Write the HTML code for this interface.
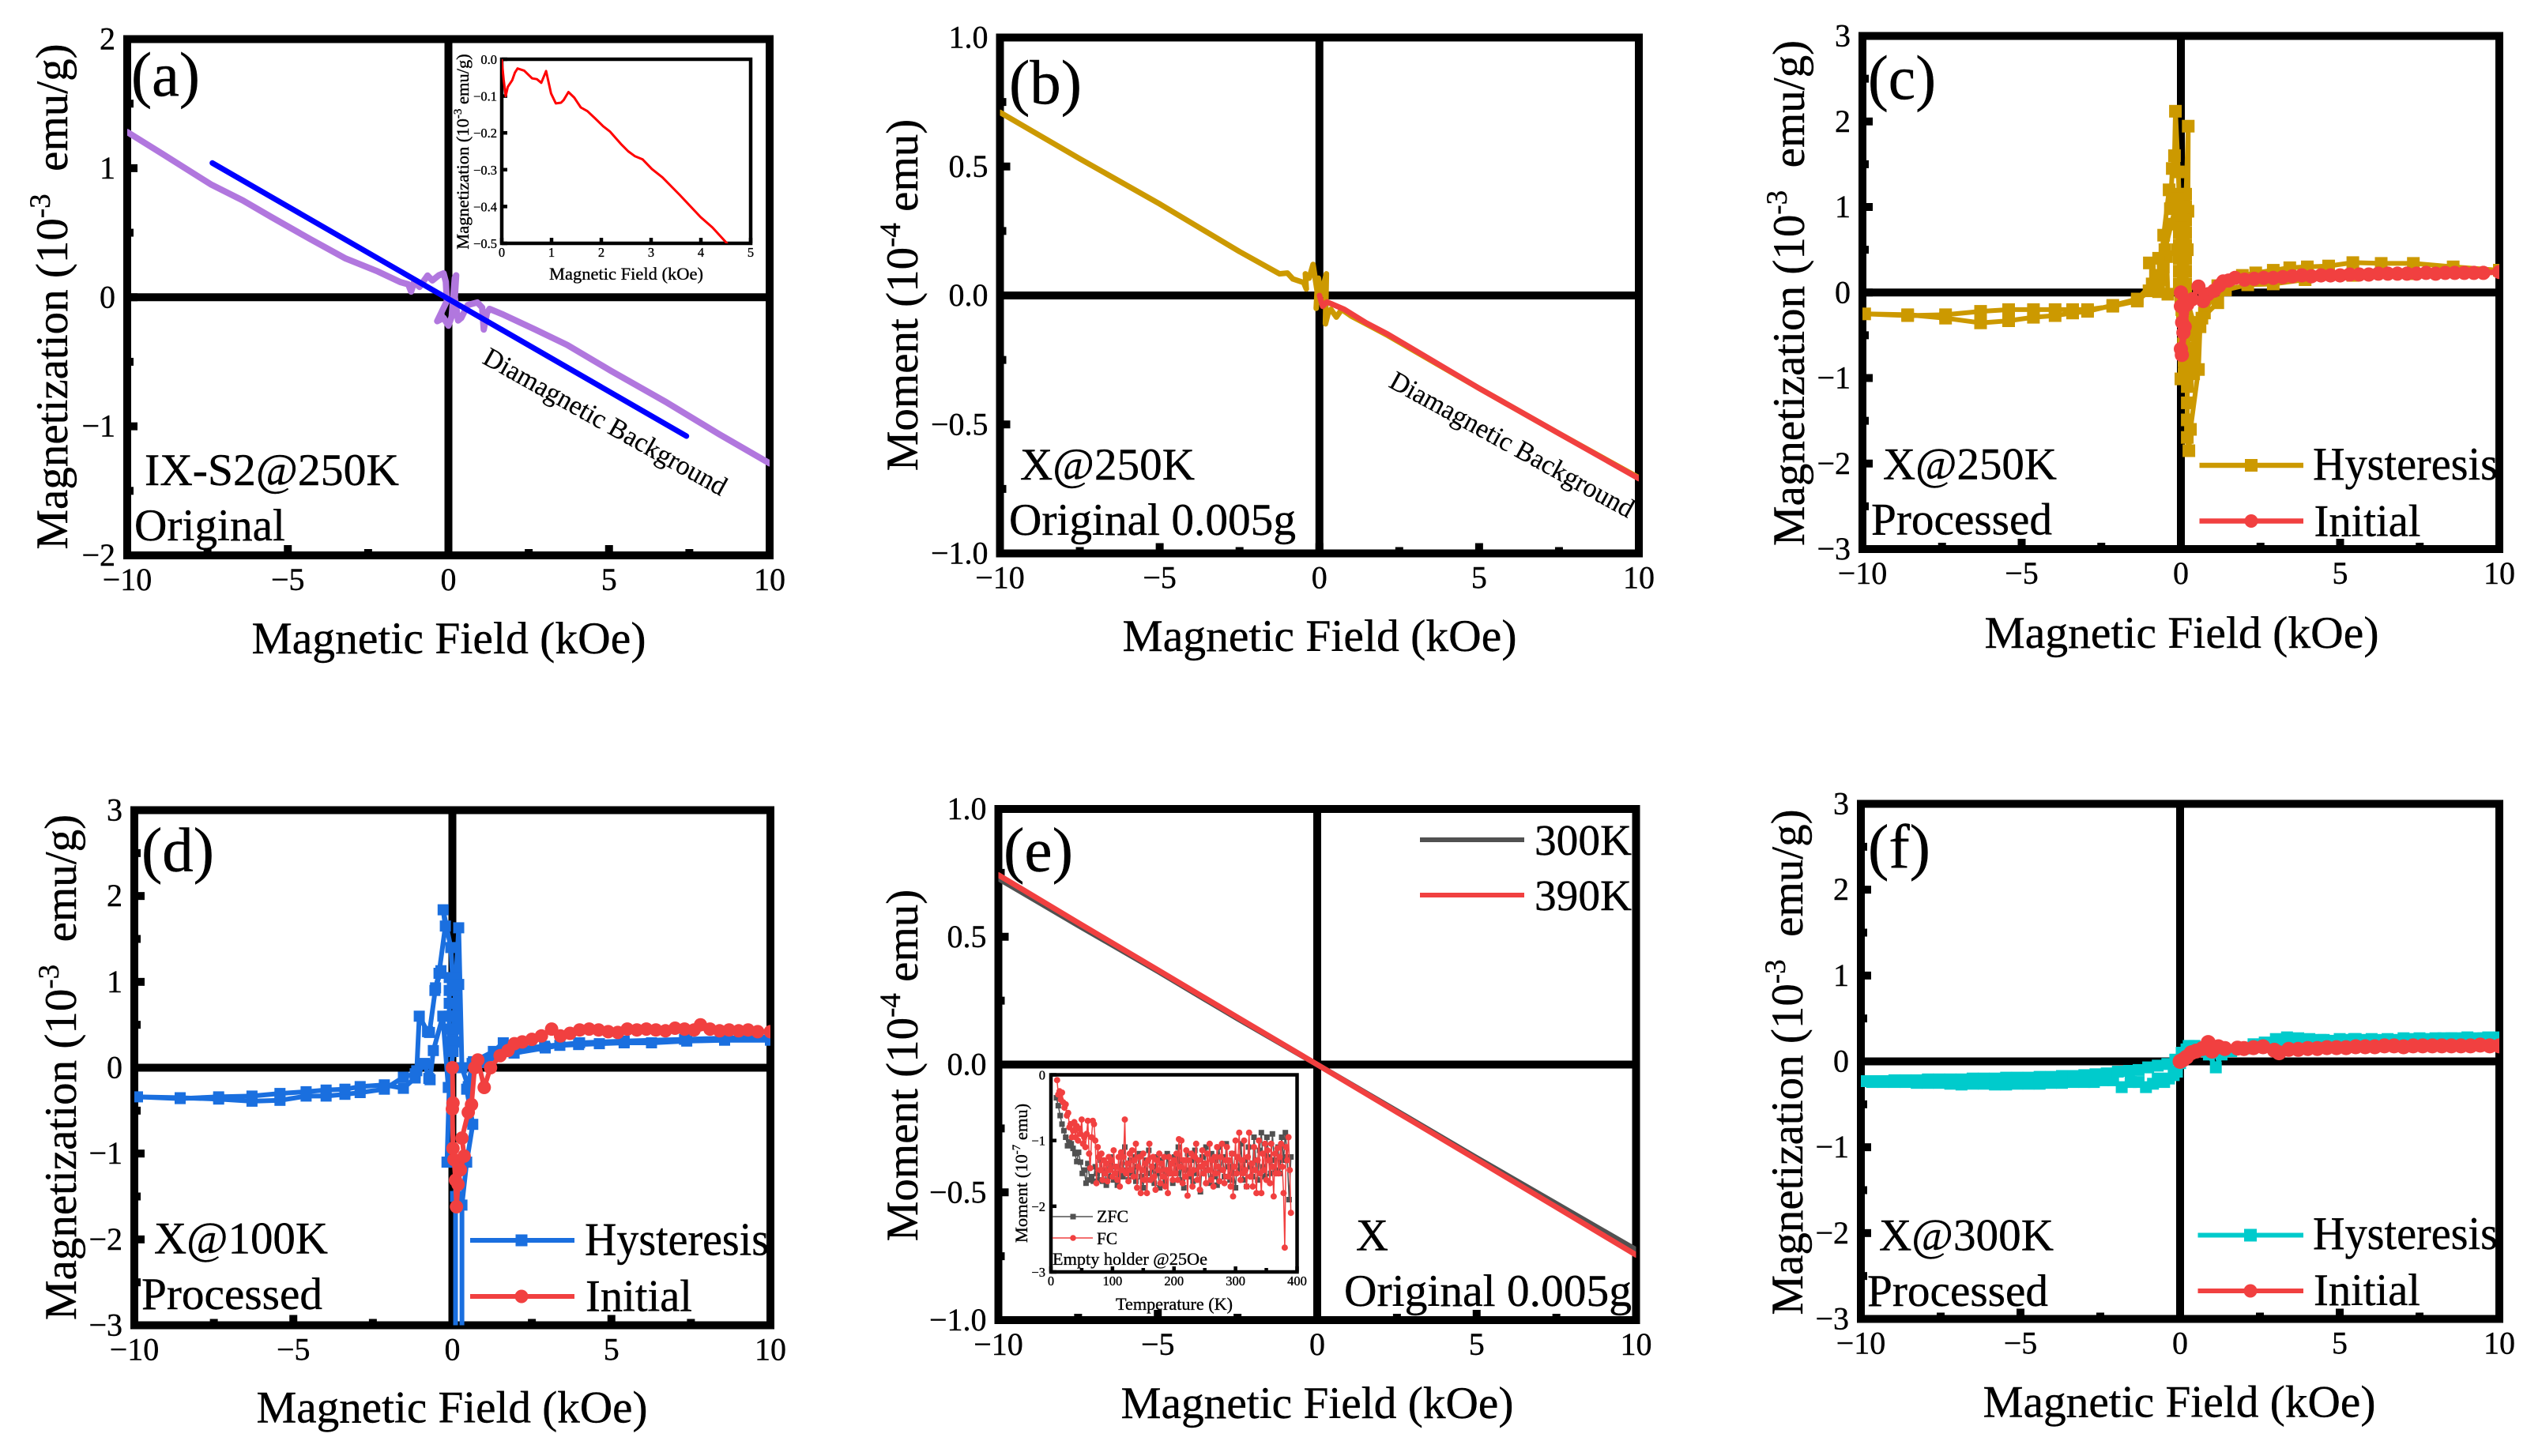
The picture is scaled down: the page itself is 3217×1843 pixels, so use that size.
<!DOCTYPE html>
<html lang="en">
<head>
<meta charset="utf-8">
<title>Magnetization panels</title>
<style>
html,body{margin:0;padding:0;background:#fff;}
svg{display:block;}
text{font-family:"Liberation Serif","Times New Roman",serif;fill:#000;stroke:#000;stroke-width:.4px;}
.title{font-size:57.6px;}
.ytitle{font-size:57px;}
.note{font-size:57px;}
.tag{font-size:79px;}
.small{font-size:22.5px;stroke:#000;stroke-width:.35px;}
.diag{font-size:34.6px;stroke-width:.2px;}
</style>
</head>
<body>
<svg id="figure" xmlns="http://www.w3.org/2000/svg" width="3217" height="1843" viewBox="0 0 3217 1843">
<rect x="0" y="0" width="3217" height="1843" fill="#fff"/>
<defs id="clips"></defs>

<g id="panel-a">
  <g id="a-axes"></g>
  <g id="a-marks"></g>
  <g id="ai-axes"></g>
  <g id="ai-marks"></g>
  <text class="title" x="568" y="827" text-anchor="middle" textLength="499" lengthAdjust="spacingAndGlyphs">Magnetic Field (kOe)</text>
  <text class="ytitle" transform="translate(85,375.5) rotate(-90)" text-anchor="middle">Magnetization (10<tspan dy="-22" font-size="37">-3</tspan><tspan dy="22">&#160; emu/g)</tspan></text>
  <text class="tag" x="166" y="121" textLength="87" lengthAdjust="spacingAndGlyphs">(a)</text>
  <text class="note" x="183" y="614" textLength="322" lengthAdjust="spacingAndGlyphs">IX-S2@250K</text>
  <text class="note" x="170" y="684" textLength="191" lengthAdjust="spacingAndGlyphs">Original</text>
  <text class="diag" transform="translate(609,459) rotate(29.2)" textLength="347" lengthAdjust="spacingAndGlyphs">Diamagnetic Background</text>
  <text class="small" x="792.5" y="354" text-anchor="middle" textLength="195" lengthAdjust="spacingAndGlyphs">Magnetic Field (kOe)</text>
  <text class="small" transform="translate(593,192) rotate(-90)" text-anchor="middle">Magnetization (10<tspan dy="-9" font-size="15">-3</tspan><tspan dy="9"> emu/g)</tspan></text>
</g>

<g id="panel-b">
  <g id="b-axes"></g>
  <g id="b-marks"></g>
  <text class="title" x="1670" y="824" text-anchor="middle" textLength="499" lengthAdjust="spacingAndGlyphs">Magnetic Field (kOe)</text>
  <text class="ytitle" transform="translate(1161,373.5) rotate(-90)" text-anchor="middle">Moment (10<tspan dy="-22" font-size="37">-4</tspan><tspan dy="22"> emu)</tspan></text>
  <text class="tag" x="1277" y="131" textLength="92" lengthAdjust="spacingAndGlyphs">(b)</text>
  <text class="note" x="1291" y="607" textLength="221" lengthAdjust="spacingAndGlyphs">X@250K</text>
  <text class="note" x="1277" y="677" textLength="363" lengthAdjust="spacingAndGlyphs">Original 0.005g</text>
  <text class="diag" transform="translate(1756,489) rotate(28.8)" textLength="347" lengthAdjust="spacingAndGlyphs">Diamagnetic Background</text>
</g>

<g id="panel-c">
  <g id="c-axes"></g>
  <g id="c-marks"></g>
  <text class="title" x="2761" y="820" text-anchor="middle" textLength="499" lengthAdjust="spacingAndGlyphs">Magnetic Field (kOe)</text>
  <text class="ytitle" transform="translate(2283,371) rotate(-90)" text-anchor="middle">Magnetization (10<tspan dy="-22" font-size="37">-3</tspan><tspan dy="22">&#160; emu/g)</tspan></text>
  <text class="tag" x="2364" y="125" textLength="86" lengthAdjust="spacingAndGlyphs">(c)</text>
  <text class="note" x="2383" y="606.5" textLength="220" lengthAdjust="spacingAndGlyphs">X@250K</text>
  <text class="note" x="2368" y="676.5" textLength="229" lengthAdjust="spacingAndGlyphs">Processed</text>
  <g>
    <line x1="2783.5" y1="589" x2="2915" y2="589" stroke="#CC9900" stroke-width="6.5"/>
    <rect x="2841" y="581" width="16" height="16" fill="#CC9900"/>
    <text x="2927" y="607" font-size="59" textLength="234" lengthAdjust="spacingAndGlyphs">Hysteresis</text>
    <line x1="2783.5" y1="659.5" x2="2915" y2="659.5" stroke="#F14040" stroke-width="6.5"/>
    <circle cx="2849" cy="659.5" r="8.5" fill="#F14040"/>
    <text x="2928.5" y="678.5" font-size="57" textLength="135" lengthAdjust="spacingAndGlyphs">Initial</text>
  </g>
</g>

<g id="panel-d">
  <g id="d-axes"></g>
  <g id="d-marks"></g>
  <text class="title" x="572" y="1800.5" text-anchor="middle" textLength="495" lengthAdjust="spacingAndGlyphs">Magnetic Field (kOe)</text>
  <text class="ytitle" transform="translate(96,1351) rotate(-90)" text-anchor="middle">Magnetization (10<tspan dy="-22" font-size="37">-3</tspan><tspan dy="22">&#160; emu/g)</tspan></text>
  <text class="tag" x="179" y="1102.5" textLength="92" lengthAdjust="spacingAndGlyphs">(d)</text>
  <text class="note" x="195" y="1586.5" textLength="220" lengthAdjust="spacingAndGlyphs">X@100K</text>
  <text class="note" x="179" y="1657" textLength="229" lengthAdjust="spacingAndGlyphs">Processed</text>
  <g>
    <line x1="595" y1="1570" x2="727" y2="1570" stroke="#1A6FDF" stroke-width="6"/>
    <rect x="652.5" y="1562.5" width="15" height="15" fill="#1A6FDF"/>
    <text x="740" y="1588.5" font-size="59" textLength="233" lengthAdjust="spacingAndGlyphs">Hysteresis</text>
    <line x1="595" y1="1641" x2="727" y2="1641" stroke="#F14040" stroke-width="6"/>
    <circle cx="660" cy="1641" r="8.5" fill="#F14040"/>
    <text x="741" y="1659.5" font-size="57" textLength="135" lengthAdjust="spacingAndGlyphs">Initial</text>
  </g>
</g>

<g id="panel-e">
  <g id="e-axes"></g>
  <g id="e-marks"></g>
  <g id="ei-axes"></g>
  <g id="ei-marks"></g>
  <text class="title" x="1667" y="1795" text-anchor="middle" textLength="497" lengthAdjust="spacingAndGlyphs">Magnetic Field (kOe)</text>
  <text class="ytitle" transform="translate(1161,1348.5) rotate(-90)" text-anchor="middle">Moment (10<tspan dy="-22" font-size="37">-4</tspan><tspan dy="22"> emu)</tspan></text>
  <text class="tag" x="1270" y="1102.5" textLength="88" lengthAdjust="spacingAndGlyphs">(e)</text>
  <text class="note" x="1716" y="1582.5" textLength="41" lengthAdjust="spacingAndGlyphs">X</text>
  <text class="note" x="1701" y="1653" textLength="364" lengthAdjust="spacingAndGlyphs">Original 0.005g</text>
  <g>
    <line x1="1797" y1="1063" x2="1929" y2="1063" stroke="#515151" stroke-width="6"/>
    <text x="1942" y="1082" font-size="55" textLength="123" lengthAdjust="spacingAndGlyphs">300K</text>
    <line x1="1797" y1="1133" x2="1929" y2="1133" stroke="#F14040" stroke-width="6"/>
    <text x="1942" y="1152" font-size="55" textLength="123" lengthAdjust="spacingAndGlyphs">390K</text>
  </g>
  <g>
    <line x1="1332" y1="1540" x2="1383" y2="1540" stroke="#515151" stroke-width="1.5"/>
    <rect x="1354.5" y="1536.5" width="7" height="7" fill="#515151"/>
    <text class="small" x="1388" y="1547" font-size="22" textLength="40" lengthAdjust="spacingAndGlyphs">ZFC</text>
    <line x1="1332" y1="1567" x2="1383" y2="1567" stroke="#F14040" stroke-width="1.5"/>
    <circle cx="1358" cy="1567" r="3.8" fill="#F14040"/>
    <text class="small" x="1388" y="1575" font-size="22" textLength="26" lengthAdjust="spacingAndGlyphs">FC</text>
    <text class="small" x="1332" y="1601" font-size="22" textLength="196" lengthAdjust="spacingAndGlyphs">Empty holder @25Oe</text>
  </g>
  <text class="small" x="1486" y="1658" text-anchor="middle" textLength="148" lengthAdjust="spacingAndGlyphs">Temperature (K)</text>
  <text class="small" transform="translate(1300,1485) rotate(-90)" text-anchor="middle">Moment (10<tspan dy="-9" font-size="15">-7</tspan><tspan dy="9"> emu)</tspan></text>
</g>

<g id="panel-f">
  <g id="f-axes"></g>
  <g id="f-marks"></g>
  <text class="title" x="2758" y="1793.5" text-anchor="middle" textLength="497" lengthAdjust="spacingAndGlyphs">Magnetic Field (kOe)</text>
  <text class="ytitle" transform="translate(2281,1344.5) rotate(-90)" text-anchor="middle">Magnetization (10<tspan dy="-22" font-size="37">-3</tspan><tspan dy="22">&#160; emu/g)</tspan></text>
  <text class="tag" x="2364" y="1098.5" textLength="79" lengthAdjust="spacingAndGlyphs">(f)</text>
  <text class="note" x="2378" y="1582.5" textLength="221" lengthAdjust="spacingAndGlyphs">X@300K</text>
  <text class="note" x="2363" y="1653" textLength="229" lengthAdjust="spacingAndGlyphs">Processed</text>
  <g>
    <line x1="2781.5" y1="1563.5" x2="2915" y2="1563.5" stroke="#00CBCC" stroke-width="6"/>
    <rect x="2840" y="1555.5" width="16" height="16" fill="#00CBCC"/>
    <text x="2927" y="1581" font-size="59" textLength="234" lengthAdjust="spacingAndGlyphs">Hysteresis</text>
    <line x1="2781.5" y1="1634" x2="2915" y2="1634" stroke="#F14040" stroke-width="6"/>
    <circle cx="2848" cy="1634" r="8.5" fill="#F14040"/>
    <text x="2928" y="1652" font-size="57" textLength="135" lengthAdjust="spacingAndGlyphs">Initial</text>
  </g>
</g>
</svg>

<script>
/* ---- tick values and labels ---- */
const fieldTicks = [-10, -5, 0, 5, 10];
const fieldTickLabels = ['\u221210', '\u22125', '0', '5', '10'];
const fieldMinorTicks = [-7.5, -2.5, 2.5, 7.5];
const yTicksA = [-2, -1, 0, 1, 2];
const yTickLabelsA = ['\u22122', '\u22121', '0', '1', '2'];
const yMinorA = [-1.5, -0.5, 0.5, 1.5];
const yTicksMoment = [-1, -0.5, 0, 0.5, 1];
const yTickLabelsMoment = ['\u22121.0', '\u22120.5', '0.0', '0.5', '1.0'];
const yMinorMoment = [-0.75, -0.25, 0.25, 0.75];
const yTicksProcessed = [-3, -2, -1, 0, 1, 2, 3];
const yTickLabelsProcessed = ['\u22123', '\u22122', '\u22121', '0', '1', '2', '3'];
const yMinorProcessed = [-2.5, -1.5, -0.5, 0.5, 1.5, 2.5];
const insetAXTicks = [0, 1, 2, 3, 4, 5];
const insetAXTickLabels = ['0', '1', '2', '3', '4', '5'];
const insetAYTicks = [-0.5, -0.4, -0.3, -0.2, -0.1, 0];
const insetAYTickLabels = ['\u22120.5', '\u22120.4', '\u22120.3', '\u22120.2', '\u22120.1', '0.0'];
const insetEXTicks = [0, 100, 200, 300, 400];
const insetEXTickLabels = ['0', '100', '200', '300', '400'];
const insetEXMinor = [50, 150, 250, 350];
const insetEYTicks = [-3, -2, -1, 0];
const insetEYTickLabels = ['\u22123', '\u22122', '\u22121', '0'];

/* ---- panel (a) ---- */
const aLoopField = [-10,-8.9,-7.4,-6.4,-5.5,-4.3,-3.2,-2.2,-1.5,-1.25,-1.16,-1.07,-.9,-.65,-.5,-.3,-.15,-.08,-.05,-.35,-.15,0,.1,.2,.24,.2,.3,.4,.6,.9,1.05,1.1,1.2,1.28,1.7,2.7,3.7,5.06,6.74,8.42,10];
const aLoopMag = [1.28,1.11,.875,.75,.62,.45,.3,.2,.118,.1,.044,.118,.08,.168,.13,.17,.185,.12,-.03,-.185,-.16,-.22,-.15,.15,.17,0,-.18,-.16,-.06,-.04,-.08,-.25,-.12,-.09,-.134,-.25,-.37,-.57,-.807,-1.06,-1.287];
const aBackgroundField = [-7.35, 7.41];
const aBackgroundMag = [1.04, -1.076];
const aInsetField = [0,.037,.079,.12,.21,.265,.317,.45,.61,.705,.794,.89,.99,1.085,1.19,1.243,1.339,1.455,1.587,1.72,1.878,2.037,2.17,2.407,2.54,2.672,2.83,3.016,3.228,3.571,3.995,4.233,4.524];
const aInsetMag = [-.002,-.054,-.1,-.075,-.057,-.036,-.025,-.031,-.052,-.054,-.064,-.032,-.093,-.12,-.118,-.111,-.089,-.104,-.131,-.141,-.161,-.182,-.196,-.232,-.25,-.263,-.272,-.298,-.321,-.368,-.429,-.457,-.5];

/* ---- panel (b) ---- */
const bHystField = [-10,-7.5,-5,-2.5,-1.25,-1,-.83,-.49,-.41,-.44,-.32,-.2,-.07,-.1,-.03,.05,.22,.19,.27,.36,.53,.7,1,1.46,2.14,5,7.5,10];
const bHystMoment = [.71,.53,.355,.17,.084,.087,.064,.05,.025,.084,.067,.12,.017,-.05,.067,0,.084,-.11,-.07,-.054,-.084,-.054,-.08,-.11,-.155,-.36,-.535,-.707];
const bInitField = [0,.1,.24,.78,1.46,2.14,5,7.5,10];
const bInitMoment = [0,-.042,-.025,-.054,-.106,-.15,-.36,-.535,-.71];

/* ---- panel (c) ---- */
const cHystField = [10,8.55,7.3,6.29,5.4,4.64,3.97,3.42,2.9,2.35,
1.93,1.5,1.16,.74,.6,.55,.3,.25,.2,.2,
.2,.2,0,.05,0,.15,.23,.22,.2,.15,
0,-.05,-.05,-.05,-.05,-.05,-.05,-.05,-.05,.15,
.15,.15,.15,.15,.15,.15,.15,.15,.15,.1,
.1,.1,.1,.1,.4,.4,.4,.4,.4,.2,
-.1,-.05,-.08,-.17,-.2,-.27,-.33,-.37,-.54,-.7,
-.41,-.45,-.99,-.8,-.65,-.7,-.55,-.9,-1.37,-2.14,
-2.93,-3.4,-3.95,-4.63,-5.41,-6.29,-7.39,-8.58,-9.93,-8.58,
-7.39,-6.29,-5.41,-4.63,-3.95,-3.4,-2.93,-2.14,-1.37,-1,
-.7,-.5,-.3,-.1,0,.1,.08,.03,.08,.2,
.4,.66,1.16,1.4,2.1,2.9,3.9,5.4,7.3,10];
const cHystMag = [.26,.3,.34,.34,.35,.31,.3,.29,.26,.23,
.2,.13,.08,-.24,-.4,-.9,-1.6,-1.85,-1.695,-1.49,
-1.29,-1.1,-1.01,-.3,0,1,1.945,.95,.5,0,
-.13,.1,.25,.4,.55,.7,.85,1,1.15,1.15,
1,.85,.7,.55,.4,.25,.1,-.05,-.2,-.35,
-.5,-.65,-.8,-.95,-.95,-.8,-.65,-.5,-.35,-.1,
.5,1,1.41,2.12,1.6,1.45,.98,1.2,.67,.01,
-.02,.42,.346,.2,.15,.4,.3,.1,-.076,-.15,
-.22,-.24,-.27,-.29,-.33,-.355,-.3,-.26,-.25,-.27,
-.26,-.22,-.2,-.2,-.2,-.2,-.2,-.16,-.1,.02,
.2,.5,.8,1.1,.9,.5,0,-.2,-.6,-1,
-.75,-.3,-.12,.03,.09,.1,.15,.2,.22,.26];
const cInitField = [0,0,.04,.08,0,.03,.12,.2,.35,.55,
.7,.85,1.04,1.2,1.33,1.5,1.7,2,2.3,2.6,
2.9,3.2,3.5,3.8,4.1,4.4,4.7,5,5.3,5.6,
5.9,6.2,6.5,6.8,7.1,7.4,7.7,8,8.3,8.6,
8.9,9.2,9.5,10];
const cInitMag = [0,-.16,-.35,-.47,-.66,-.73,-.4,-.14,-.08,.07,
-.1,-.02,.02,.08,.13,.14,.17,.15,.16,.17,
.17,.18,.19,.2,.19,.2,.2,.2,.21,.21,
.21,.22,.22,.22,.22,.22,.23,.22,.23,.23,
.23,.23,.23,.24];

/* ---- panel (d) ---- */
const dHystField = [10,8.56,7.37,6.26,5.4,4.62,3.97,3.38,2.92,1.94,
1.6,1.29,.66,.45,.64,.45,.3,.3,.3,.1,
.1,.1,-.17,-.1,.02,-.1,-.1,-.1,-.1,-.1,
-.1,.1,.1,.1,.1,.1,.1,.2,.02,-.05,
-.29,-.22,-.42,-.55,-.36,-.53,-.72,-.78,-1.04,-1.12,
-1.17,-1.54,-2.14,-2.9,-3.38,-3.97,-4.6,-5.42,-6.3,-7.35,
-8.56,-9.9,-8.56,-7.35,-6.3,-5.42,-4.6,-3.97,-3.38,-2.9,
-2.14,-1.54,-1.17,-.88,-.74,-.7,-.6,-.3,-.13,.02,
.1,.2,.3,.5,.62,1,1.3,1.6,2,2.9,
4,5.4,7.3,10];
const dHystMag = [.32,.32,.31,.29,.29,.28,.27,.26,.23,.17,
.29,.19,.07,-.25,-.66,-1.1,-1.6,-3.3,-3.3,-3.3,
-1.5,-1.1,-1.1,-.23,.19,.3,.45,.6,.75,.9,
1.05,1.05,.9,.75,.6,.45,.3,.97,.97,1.4,
1.84,1.65,1.1,.9,1.13,.93,.41,.42,.6,-.035,
-.07,-.11,-.25,-.29,-.31,-.33,-.33,-.38,-.39,-.365,
-.35,-.34,-.36,-.34,-.33,-.3,-.28,-.26,-.25,-.22,
-.2,-.24,-.12,.05,-.125,-.14,.2,.6,-.23,.19,
.97,1.63,0,-.22,.05,.06,.14,.2,.22,.25,
.29,.31,.33,.36];
const dInitField = [0,.02,0,.02,.05,.1,.13,.18,.25,.37,
.3,.5,.6,.7,.8,1,1.2,1.5,1.75,1.95,
2.2,2.5,2.8,3.12,3.4,3.7,4,4.3,4.6,4.9,
5.2,5.5,5.8,6.1,6.4,6.7,7,7.3,7.6,7.8,
8.1,8.4,8.7,9,9.3,9.6,10];
const dInitMag = [0,-.41,-.48,-.94,-1.07,-1.31,-1.62,-1.36,-1.19,-1.03,
-.82,-.52,-.43,0,.09,-.23,0,.14,.2,.28,
.3,.33,.37,.45,.37,.4,.44,.45,.44,.42,
.41,.45,.44,.45,.44,.43,.46,.45,.44,.5,
.45,.43,.44,.43,.44,.42,.42];

/* ---- panel (e) ---- */
const eField = [-10,-7.5,-5,-2.5,0,2.5,5,7.5,10];
const eMoment300K = [.728,.545,.365,.18,0,-.182,-.365,-.545,-.725];
const eMoment390K = [.742,.555,.37,.185,0,-.186,-.372,-.558,-.745];
const eZfcTemperature = [9,12,15,18,21,24,27,30,33,36,39,42,45,48,51,54,57,60,63,66,69,72,75,78,81,84,87,90,93,96,99,102,105,108,111,114,117,120,123,126,129,132,135,138,141,144,147,150,153,156,159,162,165,168,171,174,177,180,183,186,189,192,195,198,201,204,207,210,213,216,219,222,225,228,231,234,237,240,243,246,249,252,255,258,261,264,267,270,273,276,279,282,285,288,291,294,297,300,303,306,309,312,315,318,321,324,327,330,333,336,339,342,345,348,351,354,357,360,363,366,369,372,375,378,381,384,387,390];
const eZfcMoment = [-.35,-.47,-.62,-.75,-.85,-.95,-1.08,-1.02,
-1.05,-1.12,-1.2,-1.32,-1.18,-1.33,-1.5,-1.45,-1.65,-1.35,
-1.6,-1.55,-1.62,-1.4,-1.5,-1.6,-1.3,-1.62,-1.45,-1.68,
-1.35,-1.55,-1.25,-1.6,-1.4,-1.68,-1.5,-1.2,-1.55,-1.1,
-1.45,-1.6,-1.3,-1.5,-1.25,-1.62,-1.4,-1.2,-1.55,-1.72,
-1.3,-1.5,-1.15,-1.6,-1.4,-1.65,-1.25,-1.5,-1.72,-1.3,
-1.45,-1.62,-1.2,-1.5,-1.35,-1.65,-1.25,-1.5,-1.1,-1.6,
-1.3,-1.72,-1.45,-1.2,-1.55,-1.3,-1.62,-1.15,-1.5,-1.4,
-1.78,-1.25,-1.5,-1.1,-1.45,-1.65,-1.2,-1.55,-1.3,-1.68,
-1.1,-1.45,-1.25,-1.55,-1.05,-1.4,-1.6,-1.2,-1.5,-1.72,
-1.25,-1.45,-1.05,-1.6,-1.3,-1.7,-1.1,-1.4,-1.55,-.95,
-1.3,-1.6,-1.15,-.88,-1.4,-1.55,-.95,-1.25,-1.5,-.9,
-1.3,-1.45,-1.1,-1.5,-.95,-1.3,-.88,-1.25,-1.9,-1.25];
const eFcTemperature = [10,12,14,16,18,20,22,24,26,28,30,32,34,36,38,40,42,44,46,48,50,52,54,56,58,60,62,64,66,68,
70,72,74,76,78,80,82,84,86,88,90,92,94,96,98,100,102,104,106,108,110,112,114,116,118,120,122,124,126,128,
130,132,134,136,138,140,142,144,146,148,150,152,154,156,158,160,162,164,166,168,170,172,174,176,178,180,182,184,186,188,
190,192,194,196,198,200,202,204,206,208,210,212,214,216,218,220,222,224,226,228,230,232,234,236,238,240,242,244,246,248,
250,252,254,256,258,260,262,264,266,268,270,272,274,276,278,280,282,284,286,288,290,292,294,296,298,300,302,304,306,308,
310,312,314,316,318,320,322,324,326,328,330,332,334,336,338,340,342,344,346,348,350,352,354,356,358,360,362,364,366,368,
370,372,374,376,378,380,382,384,386,388,390];
const eFcMoment = [-.08,-.3,-.25,-.38,-.27,-.42,-.5,-.45,-.62,-.58,
-.8,-.75,-.95,-.85,-.72,-.95,-.78,-1,-.82,-.9,
-.68,-1.05,-.95,-1.1,-.9,-.7,-1.2,-1.42,-.95,-.7,
-.75,-1,-1.65,-1.1,-1.25,-1.45,-1.2,-1.6,-1.3,-1.5,
-1.35,-1.62,-1.25,-1.45,-1.3,-1.55,-1.15,-1.5,-1.4,-1.6,
-1.25,-1.7,-1.18,-1.45,-1.25,-.68,-1.5,-1.35,-1.62,-1.2,
-1.45,-1.15,-1.55,-1.3,-1.05,-1.72,-1.4,-1.25,-1.8,-1.45,
-1.2,-1.6,-1.35,-1.8,-1.3,-1.05,-1.6,-1.4,-1.25,-1.55,
-1.75,-1.3,-1.45,-1.2,-1.65,-1.35,-1.55,-1.25,-1.7,-1.45,
-1.8,-1.25,-1.5,-1.35,-1.6,-1.3,-1.5,-1.2,-1.6,-.98,
-1.4,-1,-1.65,-1.3,-1.55,-1.15,-1.84,-1.3,-1.5,-1.2,
-1.7,-1.45,-1.25,-1.05,-1.6,-1.3,-1.75,-1.4,-1.15,-1.5,
-1.35,-1.65,-1.2,-1.45,-1.05,-1.6,-1.3,-1.7,-1.25,-1.5,
-1.1,-1.4,-1.62,-1.25,-1.05,-1.45,-1.65,-1.3,-1.1,-1.55,
-1.3,-1.7,-1.2,-1.85,-1.4,-1,-1.5,-1.25,-.88,-1.6,
-1.3,-1.5,-1,-1.45,-1.7,-1.25,-.88,-1.55,-1.35,-1.7,
-1.1,-1.45,-1.8,-1.3,-1,-1.5,-1.8,-1.2,-1.45,-1.05,
-1.6,-1.15,-1.3,-1.65,-1.05,-1.4,-1.85,-1.2,-1.5,-1.12,
-1.5,-1.25,-1.05,-1.4,-1.8,-2.63,-1.1,-1.3,-.95,-1.45,-2.1];

/* ---- panel (f) ---- */
const fHystField = [10,9.65,9.3,8.95,8.6,8.25,7.9,7.55,7.2,6.85,
6.5,6.15,5.8,5.45,5.1,4.75,4.4,4.05,3.7,3.35,
3,2.65,2.3,1.95,1.6,1.3,1.12,.9,.6,.27,
.1,0,
-.1,-.2,-.35,-.5,-.7,-.85,-1.07,-1.3,-1.55,-1.83,
-2.1,-2.4,-2.7,-3,-3.35,-3.7,-4.05,-4.4,-4.75,-5.1,
-5.45,-5.8,-6.15,-6.5,-6.85,-7.2,-7.55,-7.9,-8.25,-8.6,
-8.95,-9.3,-9.65,-10,
-9.65,-9.3,-8.95,-8.6,-8.25,-7.9,-7.55,-7.2,-6.85,-6.5,
-6.15,-5.8,-5.45,-5.1,-4.75,-4.4,-4.05,-3.7,-3.35,-3,
-2.65,-2.3,-1.95,-1.6,-1.3,-1,-.7,-.4,-.15,.05,
.2,.45,.8,1.2,1.6,2,2.4,2.8,3.2,3.6,
4,4.5,5,5.5,6,6.5,7,7.5,8,8.5,
9,9.5,10];
const fHystMag = [.27,.28,.27,.27,.27,.27,.26,.26,.26,.25,
.25,.25,.25,.26,.25,.24,.25,.26,.27,.28,
.26,.22,.2,.16,.12,.08,-.07,.08,.12,.18,
.1,-.02,
-.12,-.16,-.2,-.24,-.2,-.26,-.3,-.24,-.24,-.3,
-.22,-.22,-.24,-.24,-.24,-.25,-.25,-.26,-.26,-.26,
-.27,-.27,-.26,-.26,-.27,-.26,-.25,-.25,-.25,-.24,
-.24,-.24,-.24,-.23,
-.23,-.23,-.22,-.22,-.22,-.21,-.21,-.21,-.21,-.2,
-.2,-.2,-.19,-.19,-.19,-.18,-.18,-.17,-.17,-.16,
-.15,-.14,-.12,-.11,-.1,-.07,-.05,-.03,.02,.1,
.14,.18,.12,.1,.12,.15,.18,.2,.22,.24,
.25,.25,.26,.26,.26,.26,.27,.27,.27,.27,
.28,.27,.28];
const fInitField = [0,.1,.2,.35,.5,.7,.88,1,1.2,1.4,
1.8,2,2.3,2.6,2.95,3.1,3.4,3.7,4,4.3,
4.6,4.9,5.2,5.5,5.8,6.1,6.4,6.7,7,7.3,
7.6,7.9,8.2,8.5,8.8,9.1,9.4,9.7,10];
const fInitMag = [0,.02,.05,.1,.12,.15,.22,.12,.17,.15,
.155,.15,.16,.17,.13,.1,.14,.14,.15,.15,
.16,.16,.16,.17,.17,.17,.18,.18,.17,.18,
.18,.18,.18,.18,.18,.18,.19,.18,.18];

/* ---- drawing helpers ---- */
const NS = 'http://www.w3.org/2000/svg';
function make(parent, tag, attrs) {
  const el = document.createElementNS(NS, tag);
  for (const k in attrs) el.setAttribute(k, attrs[k]);
  parent.appendChild(el);
  return el;
}
function axisX(p) { return v => p.x0 + (v - p.xMin) / (p.xMax - p.xMin) * (p.x1 - p.x0); }
function axisY(p) { return v => p.y1 - (v - p.yMin) / (p.yMax - p.yMin) * (p.y1 - p.y0); }

function drawAxes(p, host, xTicks, xLabels, xMinor, yTicks, yLabels, yMinor) {
  const g = document.getElementById(host);
  const X = axisX(p), Y = axisY(p);
  const sw = p.frame;
  const frame = make(g, 'rect', {x: p.x0, y: p.y0, width: p.x1 - p.x0, height: p.y1 - p.y0, fill: 'none', stroke: '#000', 'stroke-width': sw});
  
  
  if (p.cross) {
    const v = make(g, 'line', {x1: X(0), x2: X(0), y1: p.y0, y2: p.y1, stroke: '#000', 'stroke-width': sw});
    
    
    const h = make(g, 'line', {x1: p.x0, x2: p.x1, y1: Y(0), y2: Y(0), stroke: '#000', 'stroke-width': sw});
    
    
  }
  xTicks.forEach((v, i) => {
    const t = make(g, 'line', {x1: X(v), x2: X(v), y1: p.y1, y2: p.y1 - p.major, stroke: '#000', 'stroke-width': sw});
    
    
    const l = make(g, 'text', {x: X(v), y: p.y1 + p.xLabelGap, 'text-anchor': 'middle', 'font-size': p.tickFont});
    
    
    if (p.bold) l.setAttribute('class', 'small');
    l.style.fontSize = p.tickFont + 'px';
    l.textContent = xLabels[i];
  });
  xMinor.forEach(v => {
    const t = make(g, 'line', {x1: X(v), x2: X(v), y1: p.y1, y2: p.y1 - p.minor, stroke: '#000', 'stroke-width': sw});
    
    
  });
  yTicks.forEach((v, i) => {
    const t = make(g, 'line', {x1: p.x0, x2: p.x0 + p.major, y1: Y(v), y2: Y(v), stroke: '#000', 'stroke-width': sw});
    
    
    const l = make(g, 'text', {x: p.x0 - p.yLabelGap, y: Y(v) + p.yLabelDrop, 'text-anchor': 'end', 'font-size': p.tickFont});
    
    
    if (p.bold) l.setAttribute('class', 'small');
    l.style.fontSize = p.tickFont + 'px';
    l.textContent = yLabels[i];
  });
  yMinor.forEach(v => {
    const t = make(g, 'line', {x1: p.x0, x2: p.x0 + p.minor, y1: Y(v), y2: Y(v), stroke: '#000', 'stroke-width': sw});
    
    
  });
  const clip = make(document.getElementById('clips'), 'clipPath', {id: 'clip-' + host});
  make(clip, 'rect', {x: p.x0, y: p.y0, width: p.x1 - p.x0, height: p.y1 - p.y0});
}

function linePoints(p, xs, ys) {
  const X = axisX(p), Y = axisY(p);
  return xs.map((v, i) => X(v).toFixed(1) + ',' + Y(ys[i]).toFixed(1)).join(' ');
}
function seriesGroup(host, clipHost, name) {
  const g = make(document.getElementById(host), 'g', {'clip-path': 'url(#clip-' + clipHost + ')'});
  
  
  return g;
}
function drawLine(g, p, xs, ys, color, width) {
  const el = make(g, 'polyline', {points: linePoints(p, xs, ys), fill: 'none', stroke: color, 'stroke-width': width, 'stroke-linejoin': 'round', 'stroke-linecap': 'round'});
  
  
}
function drawSquares(g, p, xs, ys, color, size) {
  const X = axisX(p), Y = axisY(p);
  xs.forEach((v, i) => {
    const m = make(g, 'rect', {x: (X(v) - size / 2).toFixed(1), y: (Y(ys[i]) - size / 2).toFixed(1), width: size, height: size, fill: color});
    
    
  });
}
function drawCircles(g, p, xs, ys, color, radius) {
  const X = axisX(p), Y = axisY(p);
  xs.forEach((v, i) => {
    const m = make(g, 'circle', {cx: X(v).toFixed(1), cy: Y(ys[i]).toFixed(1), r: radius, fill: color});
    
    
  });
}

/* ---- panel layout ---- */
const mainStyle = {xMin: -10, xMax: 10, cross: true, frame: 10, major: 13, minor: 8, tickFont: 40, xLabelGap: 44, yLabelGap: 15, yLabelDrop: 13};
const layoutA = Object.assign({}, mainStyle, {x0: 161, x1: 974, y0: 49.5, y1: 703, yMin: -2, yMax: 2});
const layoutB = Object.assign({}, mainStyle, {x0: 1265.5, x1: 2074, y0: 47.5, y1: 700.5, yMin: -1, yMax: 1});
const layoutC = Object.assign({}, mainStyle, {x0: 2357, x1: 3163, y0: 45.5, y1: 695, yMin: -3, yMax: 3});
const layoutD = Object.assign({}, mainStyle, {x0: 170, x1: 975, y0: 1025.5, y1: 1677.5, yMin: -3, yMax: 3});
const layoutE = Object.assign({}, mainStyle, {x0: 1263.5, x1: 2070.5, y0: 1024, y1: 1671, yMin: -1, yMax: 1});
const layoutF = Object.assign({}, mainStyle, {x0: 2355, x1: 3163, y0: 1017.5, y1: 1669.5, yMin: -3, yMax: 3});
const insetStyle = {cross: false, frame: 4.5, major: 7, minor: 5, bold: true, tickFont: 16.5, yLabelDrop: 6};
const layoutAI = Object.assign({}, insetStyle, {x0: 635, x1: 950, y0: 75, y1: 308, xMin: 0, xMax: 5, yMin: -0.5, yMax: 0, xLabelGap: 17, yLabelGap: 6});
const layoutEI = Object.assign({}, insetStyle, {x0: 1330, x1: 1641.5, y0: 1360.5, y1: 1610, xMin: 0, xMax: 400, yMin: -3, yMax: 0, xLabelGap: 17, yLabelGap: 7});

const purple = '#B177DE', royal = '#0000FF', gold = '#CC9900', red = '#F14040', blue = '#1A6FDF', gray = '#515151', cyan = '#00CBCC';

/* ---- (a) ---- */
drawAxes(layoutA, 'a-axes', fieldTicks, fieldTickLabels, fieldMinorTicks, yTicksA, yTickLabelsA, yMinorA);
const aLoopGroup = seriesGroup('a-marks', 'a-axes', 'original-loop');
drawLine(aLoopGroup, layoutA, aLoopField, aLoopMag, purple, 8);
const aBgGroup = seriesGroup('a-marks', 'a-axes', 'diamagnetic-background-line');
drawLine(aBgGroup, layoutA, aBackgroundField, aBackgroundMag, royal, 7);
drawAxes(layoutAI, 'ai-axes', insetAXTicks, insetAXTickLabels, [], insetAYTicks, insetAYTickLabels, []);
const aiGroup = seriesGroup('ai-marks', 'ai-axes', 'inset-low-field-curve');
drawLine(aiGroup, layoutAI, aInsetField, aInsetMag, '#FF0000', 3);

/* ---- (b) ---- */
drawAxes(layoutB, 'b-axes', fieldTicks, fieldTickLabels, fieldMinorTicks, yTicksMoment, yTickLabelsMoment, yMinorMoment);
const bHystGroup = seriesGroup('b-marks', 'b-axes', 'hysteresis-series');
drawLine(bHystGroup, layoutB, bHystField, bHystMoment, gold, 7);
const bInitGroup = seriesGroup('b-marks', 'b-axes', 'initial-series');
drawLine(bInitGroup, layoutB, bInitField, bInitMoment, red, 7);

/* ---- (c) ---- */
drawAxes(layoutC, 'c-axes', fieldTicks, fieldTickLabels, fieldMinorTicks, yTicksProcessed, yTickLabelsProcessed, yMinorProcessed);
const cHystGroup = seriesGroup('c-marks', 'c-axes', 'hysteresis-series');
drawLine(cHystGroup, layoutC, cHystField, cHystMag, gold, 6);
drawSquares(cHystGroup, layoutC, cHystField, cHystMag, gold, 16);
const cInitGroup = seriesGroup('c-marks', 'c-axes', 'initial-series');
drawLine(cInitGroup, layoutC, cInitField, cInitMag, red, 7);
drawCircles(cInitGroup, layoutC, cInitField, cInitMag, red, 9);

/* ---- (d) ---- */
drawAxes(layoutD, 'd-axes', fieldTicks, fieldTickLabels, fieldMinorTicks, yTicksProcessed, yTickLabelsProcessed, yMinorProcessed);
const dHystGroup = seriesGroup('d-marks', 'd-axes', 'hysteresis-series');
drawLine(dHystGroup, layoutD, dHystField, dHystMag, blue, 6);
drawSquares(dHystGroup, layoutD, dHystField, dHystMag, blue, 14);
const dInitGroup = seriesGroup('d-marks', 'd-axes', 'initial-series');
drawLine(dInitGroup, layoutD, dInitField, dInitMag, red, 6);
drawCircles(dInitGroup, layoutD, dInitField, dInitMag, red, 8.5);

/* ---- (e) ---- */
drawAxes(layoutE, 'e-axes', fieldTicks, fieldTickLabels, fieldMinorTicks, yTicksMoment, yTickLabelsMoment, yMinorMoment);
const e300Group = seriesGroup('e-marks', 'e-axes', 'series-300k');
drawLine(e300Group, layoutE, eField, eMoment300K, gray, 7);
const e390Group = seriesGroup('e-marks', 'e-axes', 'series-390k');
drawLine(e390Group, layoutE, eField, eMoment390K, red, 7);
drawAxes(layoutEI, 'ei-axes', insetEXTicks, insetEXTickLabels, insetEXMinor, insetEYTicks, insetEYTickLabels, []);
const zfcGroup = seriesGroup('ei-marks', 'ei-axes', 'zfc-series');
drawLine(zfcGroup, layoutEI, eZfcTemperature, eZfcMoment, gray, 1.5);
drawSquares(zfcGroup, layoutEI, eZfcTemperature, eZfcMoment, gray, 7);
const fcGroup = seriesGroup('ei-marks', 'ei-axes', 'fc-series');
drawLine(fcGroup, layoutEI, eFcTemperature, eFcMoment, red, 1.5);
drawCircles(fcGroup, layoutEI, eFcTemperature, eFcMoment, red, 4);

/* ---- (f) ---- */
drawAxes(layoutF, 'f-axes', fieldTicks, fieldTickLabels, fieldMinorTicks, yTicksProcessed, yTickLabelsProcessed, yMinorProcessed);
const fHystGroup = seriesGroup('f-marks', 'f-axes', 'hysteresis-series');
drawLine(fHystGroup, layoutF, fHystField, fHystMag, cyan, 6);
drawSquares(fHystGroup, layoutF, fHystField, fHystMag, cyan, 15);
const fInitGroup = seriesGroup('f-marks', 'f-axes', 'initial-series');
drawLine(fInitGroup, layoutF, fInitField, fInitMag, red, 7);
drawCircles(fInitGroup, layoutF, fInitField, fInitMag, red, 9.5);
</script>
</body>
</html>
